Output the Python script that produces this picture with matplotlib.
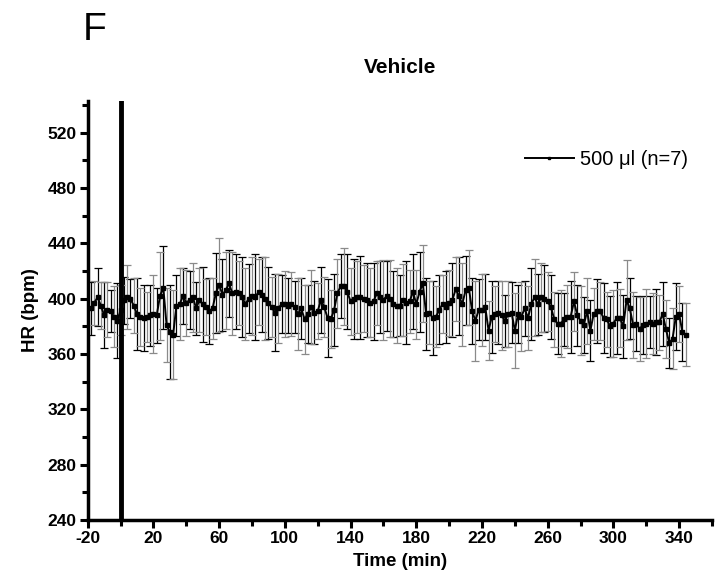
import numpy as np
import matplotlib
matplotlib.use("Agg")
import matplotlib.pyplot as plt

plt.rcParams['font.family'] = ['Liberation Sans', 'DejaVu Sans']
plt.rcParams['axes.unicode_minus'] = False

# Heart rate (bpm), one value every 2 min starting at t = -18 min
hr = [393, 397, 401, 395, 388, 392, 391, 387, 384, 392,
      399, 401, 400, 395, 389, 387, 386, 387, 388, 389,
      388, 402, 408, 381, 376, 374, 395, 396, 402, 397,
      399, 401, 393, 399, 396, 394, 391, 393, 404, 410,
      403, 406, 411, 404, 405, 404, 401, 396, 400, 402,
      401, 405, 403, 400, 397, 394, 390, 393, 396, 396,
      395, 396, 394, 389, 393, 385, 389, 394, 390, 391,
      399, 394, 386, 385, 392, 404, 409, 409, 405, 398,
      400, 401, 401, 400, 399, 397, 398, 404, 401, 399,
      402, 400, 396, 395, 395, 399, 397, 398, 405, 396,
      405, 411, 389, 390, 386, 387, 392, 396, 394, 397,
      399, 407, 402, 396, 406, 408, 391, 384, 392, 392,
      394, 377, 387, 389, 390, 388, 384, 389, 390, 377,
      389, 387, 393, 386, 396, 401, 396, 401, 400, 398,
      394, 385, 382, 382, 385, 387, 387, 398, 388, 384,
      381, 391, 377, 389, 391, 391, 386, 385, 380, 382,
      386, 386, 380, 399, 393, 381, 382, 378, 381, 382,
      383, 382, 383, 383, 389, 378, 368, 371, 387, 389,
      376, 374]

# SEM (bpm)
sem = [19, 16, 21, 17, 24, 20, 15, 22, 27, 18,
       17, 23, 14, 20, 26, 21, 24, 18, 22, 28,
       20, 32, 30, 27, 34, 32, 22, 26, 20, 24,
       21, 25, 19, 23, 27, 20, 24, 22, 29, 34,
       26, 28, 24, 30, 27, 23, 29, 26, 25, 28,
       31, 24, 27, 30, 26, 22, 28, 25, 21, 24,
       20, 23, 19, 26, 22, 25, 21, 27, 23, 20,
       24, 22, 28, 21, 26, 25, 23, 28, 27, 24,
       29, 26, 30, 24, 27, 25, 28, 23, 26, 29,
       25, 28, 24, 27, 22, 26, 30, 23, 27, 25,
       29, 28, 26, 23, 27, 22, 25, 21, 26, 24,
       27, 23, 28, 30, 25, 27, 24, 29, 22, 26,
       24, 21, 26, 20, 23, 25, 19, 24, 22, 27,
       21, 25, 20, 23, 26, 28, 22, 25, 24, 21,
       23, 20, 22, 24, 19, 23, 26, 21, 22, 25,
       20, 24, 22, 19, 23, 21, 25, 20, 22, 24,
       26, 21, 23, 29, 22, 24, 20, 23, 21, 25,
       19, 22, 24, 20, 23, 21, 18, 22, 24, 20,
       21, 23]

t_start = -18
t_step = 2
x_ticks = [-20, 20, 60, 100, 140, 180, 220, 260, 300, 340]
y_ticks = [240, 280, 320, 360, 400, 440, 480, 520]
series_label = "500 \u03bcl (n=7)"
title = "Vehicle"
panel = "F"

hr = np.array(hr, dtype=float)
sem = np.array(sem, dtype=float)
t = t_start + t_step * np.arange(len(hr))

fig = plt.figure(figsize=(7.25, 5.83), dpi=100)
ax = fig.add_axes([0.121, 0.108, 0.861, 0.719])

even = np.arange(len(hr)) % 2 == 0
ax.errorbar(t[even], hr[even], yerr=sem[even], fmt='none', ecolor='black',
            elinewidth=0.9, capsize=3, capthick=0.9, zorder=2)
ax.errorbar(t[~even], hr[~even], yerr=sem[~even], fmt='none', ecolor='#8a8a8a',
            elinewidth=0.9, capsize=3, capthick=0.9, zorder=2)
ax.plot(t, hr, color='black', lw=1.4, marker='s', ms=2.6, zorder=3,
        label=series_label)

ax.axvline(0, color='black', lw=3.5, zorder=4)

ax.set_xlim(-20, 360)
ax.set_ylim(240, 543)
ax.set_xticks(x_ticks)
ax.set_xticks(np.arange(0, 361, 40), minor=True)
ax.set_yticks(y_ticks)
ax.set_yticks(np.arange(260, 541, 40), minor=True)

for s in ['top', 'right']:
    ax.spines[s].set_visible(False)
for s in ['left', 'bottom']:
    ax.spines[s].set_linewidth(2.5)

ax.tick_params(axis='both', which='major', direction='out', length=6, width=2.2,
               labelsize=12.5, pad=2)
ax.tick_params(axis='both', which='minor', direction='out', length=4, width=2.2)
for lab in ax.get_xticklabels() + ax.get_yticklabels():
    lab.set_fontweight('bold')

ax.set_xlabel("Time (min)", fontsize=13.5, fontweight='bold', labelpad=5)
ax.set_ylabel("HR (bpm)", fontsize=13.5, fontweight='bold', labelpad=6)

fig.text(0.5517, 0.885, title, ha='center', va='center', fontsize=15,
         fontweight='bold')
fig.text(0.131, 0.948, panel, ha='center', va='center', fontsize=28)

leg = ax.legend(loc='center right', bbox_to_anchor=(0.99, 0.86), frameon=False,
                fontsize=14.5, handlelength=2.4, handletextpad=0.3,
                markerscale=0.6)

fig.savefig("out.png", dpi=100)
